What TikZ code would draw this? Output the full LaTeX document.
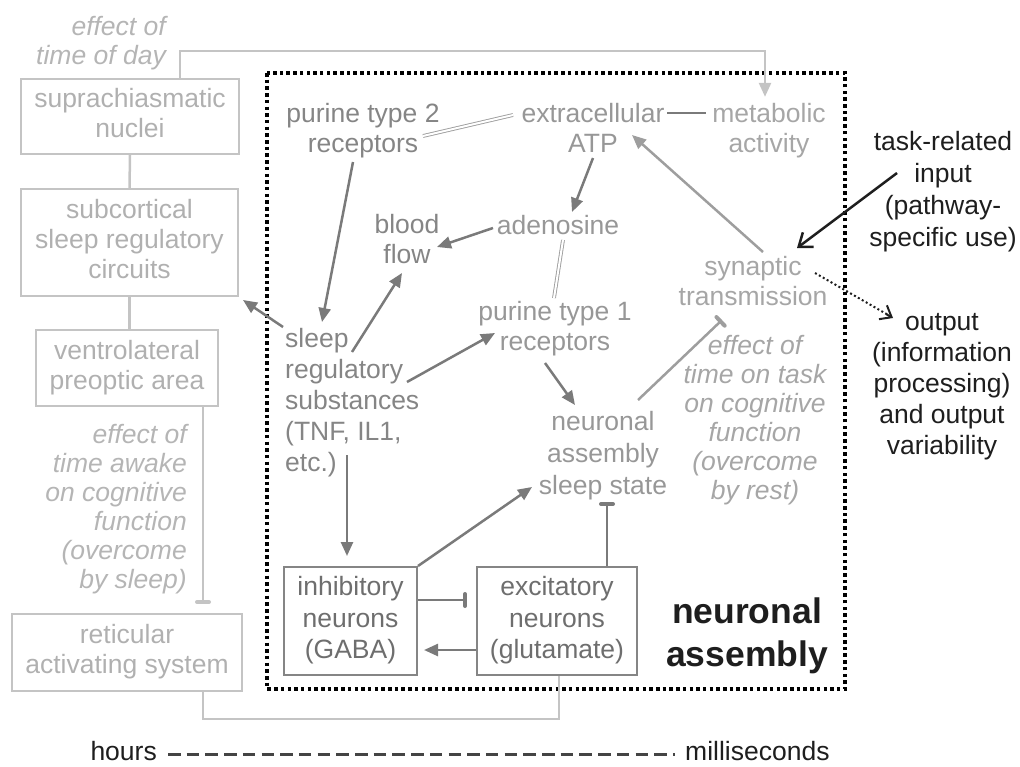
\documentclass[tikz,border=0pt]{standalone}
\usepackage{fontspec}
\setmainfont{Liberation Sans}
\usetikzlibrary{arrows.meta,calc}
\definecolor{outb}{HTML}{C4C4C4}
\definecolor{outt}{HTML}{B0B0B0}
\definecolor{ital}{HTML}{B5B5B5}
\definecolor{midA}{HTML}{858585}
\definecolor{midB}{HTML}{979797}
\definecolor{midC}{HTML}{A6A6A6}
\definecolor{arr}{HTML}{7A7A7A}
\definecolor{arrL}{HTML}{9E9E9E}
\definecolor{boxb}{HTML}{858585}
\definecolor{boxt}{HTML}{6E6E6E}
\definecolor{blk}{HTML}{1E1E1E}
\definecolor{dashc}{HTML}{444444}
\newcommand{\NL}{\\\strut}
\newcommand{\fsA}{\fontsize{26.5}{30}\selectfont}
\begin{document}
\begin{tikzpicture}[x=1pt,y=-1pt,
 lbox/.style={draw=outb,line width=2pt,text=outt,inner sep=0pt,align=center,font=\fsA},
 itxt/.style={inner sep=0pt,align=right,text=ital,font=\fontsize{26.5}{29}\selectfont\itshape},
 ntxt/.style={inner sep=0pt,align=center,font=\fsA,text=midA},
 nbox/.style={draw=boxb,line width=2pt,text=boxt,inner sep=0pt,align=center,font=\fontsize{26.5}{31.5}\selectfont,minimum height=108pt},
 oline/.style={draw=outb,line width=2.5pt},
 conn/.style={draw=arr,line width=2.5pt},
 tri/.style={-{Triangle[length=14pt,width=12pt]}},
 inhib/.style={-{Bar[width=12pt,line width=4pt,round]}},
 dbl/.style={draw=arrL,double=white,double distance=2pt,line width=0.9pt},
]
\useasboundingbox (0,0) rectangle (1020,766);

% neuronal assembly frame
\draw[black,line width=3.5pt,dash pattern=on 3.5pt off 3.2pt] (267,73) rectangle (845,689);

% left column
\node[lbox,minimum width=218pt,minimum height=75pt] (scn) at (130,116.5) {\strut suprachiasmatic\NL nuclei};
\node[lbox,minimum width=217pt,minimum height=107pt] (sub) at (129.5,242.5) {\strut subcortical\NL sleep regulatory\NL circuits};
\node[lbox,minimum width=182pt,minimum height=76pt] (vlpo) at (127,368) {\strut ventrolateral\NL preoptic area};
\node[lbox,minimum width=230pt,minimum height=77pt] (ras) at (127,652.5) {\strut reticular\NL activating system};
\node[itxt,anchor=east] (tod) at (166,44) {\strut effect of\NL time of day};
\node[itxt,anchor=east] (awake) at (187,510) {\strut effect of\NL time awake\NL on cognitive\NL function\NL (overcome\NL by sleep)};

% inner nodes
\node[ntxt] (p2) at (363,131) {\strut purine type 2\NL receptors};
\node[ntxt,text=midB] (atp) at (593,131) {\strut extracellular\NL ATP};
\node[ntxt,text=midC] (meta) at (769,131) {\strut metabolic\NL activity};
\node[ntxt] (blood) at (407,242) {\strut blood\NL flow};
\node[ntxt,text=midB] (aden) at (558,228) {\strut adenosine};
\node[ntxt,text=midB] (p1) at (555,329) {\strut purine type 1\NL receptors};
\node[ntxt,align=left,anchor=west,font=\fontsize{26.5}{31}\selectfont] (srs) at (285,403) {\strut sleep\NL regulatory\NL substances\NL (TNF, IL1,\NL etc.)};
\node[ntxt,text=midB,font=\fontsize{26.5}{32}\selectfont] (nass) at (603,456) {\strut neuronal\NL assembly\NL sleep state};
\node[ntxt,text=midC] (syn) at (753,284) {\strut synaptic\NL transmission};
\node[itxt,align=center,text=midC] (efftask) at (755,421) {\strut effect of\NL time on task\NL on cognitive\NL function\NL (overcome\NL by rest)};
\node[nbox,minimum width=133pt] (inh) at (350.5,621) {\strut inhibitory\NL neurons\NL (GABA)};
\node[nbox,minimum width=160pt] (exc) at (557,621) {\strut excitatory\NL neurons\NL (glutamate)};

% outside, black
\node[ntxt,text=blk,font=\fontsize{26.5}{32}\selectfont] (task) at (943,192) {\strut task-related\NL input\NL (pathway-\NL specific use)};
\node[ntxt,text=blk,font=\fontsize{26.5}{31}\selectfont] (out) at (942,386) {\strut output\NL (information\NL processing)\NL and output\NL variability};
\node[ntxt,text=blk,font=\fontsize{35.5}{43}\selectfont\bfseries] (nalab) at (747,636) {\strut neuronal\NL assembly};

% time scale
\node[ntxt,text=blk,anchor=east] (hrs) at (157,754) {\strut hours};
\node[ntxt,text=blk,anchor=west] (ms) at (685,754) {\strut milliseconds};
\draw[dashc,line width=3pt,dash pattern=on 12.5pt off 6.2pt] ($(hrs.east)+(11,0)$) -- ($(ms.west)+(-10,0)$);

% outer connectors
\draw[oline] (scn.south) -- (sub.north);
\draw[oline] (sub.south) -- (sub.south |- vlpo.north);
\draw[oline,-{Bar[width=12pt,line width=4pt,round]}] ($(vlpo.south)+(76,0)$) -- ($(ras.north)+(76,-9)$);
\draw[oline] ($(ras.south)+(76,0)$) -- ++(0,27) -| ($(exc.south)+(2,0)$);
\draw[oline,-{Triangle[length=14pt,width=12pt]}] ($(scn.north)+(50,0)$) -- ++(0,-27) -| ($(meta.north)+(-4,-4)$);

% inner connectors
\draw[conn,tri] ($(p2)+(-10,31)$) -- ($(srs.west)+(37,-81)$);
\draw[conn,tri] ($(srs.west)+(67,-51)$) -- ($(blood)+(-5,31)$);
\draw[conn,tri] ($(aden)+(-65,0)$) -- ($(blood)+(30,5)$);
\draw[conn,tri] ($(atp)+(0,27)$) -- ($(aden)+(14,-16)$);
\draw[dbl] ($(p2)+(60,5)$) -- ($(atp)+(-80,-16)$);
\draw[conn] ($(atp)+(74,-18)$) -- ($(meta)+(-63,-18)$);
\draw[dbl] ($(aden)+(5,12)$) -- ($(p1)+(-1,-31)$);
\draw[conn,tri] ($(srs.west)+(-2,-76)$) -- ($(sub.south east)+(4,3)$);
\draw[conn,tri] ($(srs.west)+(122,-21)$) -- ($(p1)+(-60,4)$);
\draw[conn,tri] ($(p1)+(-10,34)$) -- ($(nass)+(-28,-51)$);
\draw[conn,tri] ($(srs.west)+(62,52)$) -- ($(inh.north)+(-3.5,-10)$);
\draw[conn,tri] (inh.north east) -- ($(nass)+(-71,31)$);
\draw[conn,inhib] ($(inh.east)+(0,-21)$) -- ($(exc.west)+(-9,-21)$);
\draw[conn,tri] ($(exc.west)+(0,29)$) -- ($(inh.east)+(6,29)$);
\draw[conn,inhib] ($(exc.north)+(50,0)$) -- ($(nass)+(4,46)$);
\draw[draw=arrL,line width=2.5pt,inhib] ($(nass)+(35,-56)$) -- ($(syn)+(-31,36)$);
\draw[draw=arrL,line width=2.5pt,tri] ($(syn)+(10,-32)$) -- ($(atp)+(39,4)$);
\draw[blk,line width=2.5pt,-{Straight Barb[length=12pt,width=18pt]}] ($(task)+(-46,-19)$) -- ($(syn)+(44,-36)$);
\draw[blk,line width=2pt,dash pattern=on 2pt off 2.5pt] ($(syn)+(62,-11)$) -- ($(out)+(-52,-70)$);
\draw[blk,line width=2pt,-{Straight Barb[length=10pt,width=16pt,line width=2pt]}] ($(out)+(-56,-72)$) -- ($(out)+(-49,-68)$);
\end{tikzpicture}
\end{document}
